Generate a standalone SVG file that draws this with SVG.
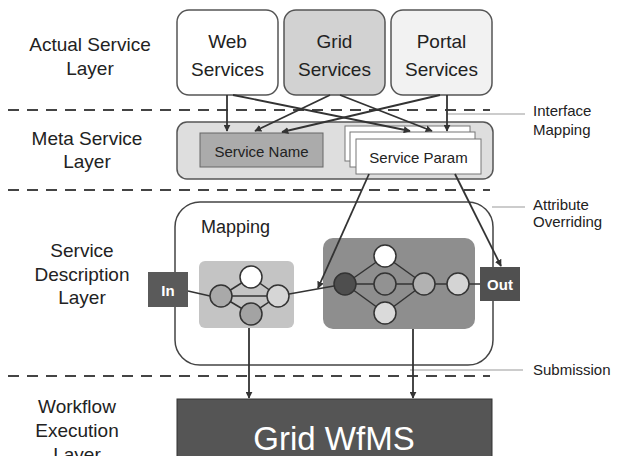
<svg xmlns="http://www.w3.org/2000/svg" width="617" height="456" viewBox="0 0 617 456">
<defs>
<style>
text{font-family:"Liberation Sans",Arial,sans-serif;fill:#222}
.lbl{font-size:19px;text-anchor:middle}
.side{font-size:15px}
.dash{stroke:#444;stroke-width:2;stroke-dasharray:11 8;fill:none}
.lead{stroke:#999;stroke-width:1;fill:none}
.box{stroke:#555;stroke-width:1.5}
.edge{stroke:#333;stroke-width:1.5;fill:none}
.arr{stroke:#333;stroke-width:1.8;fill:none;marker-end:url(#ah)}
.c{stroke:#333;stroke-width:1.5}
</style>
<marker id="ah" viewBox="0 0 10 10" refX="9" refY="5" markerWidth="7" markerHeight="7" markerUnits="userSpaceOnUse" orient="auto">
<path d="M0,0 L10,5 L0,10 z" fill="#333"/>
</marker>
</defs>
<rect width="617" height="456" fill="#fff"/>

<g id="layer-labels">
<text class="lbl" x="90" y="51">Actual Service</text>
<text class="lbl" x="90" y="75">Layer</text>
<text class="lbl" x="87" y="145">Meta Service</text>
<text class="lbl" x="87" y="168">Layer</text>
<text class="lbl" x="82" y="257">Service</text>
<text class="lbl" x="82" y="281">Description</text>
<text class="lbl" x="82" y="304">Layer</text>
<text class="lbl" x="77" y="413">Workflow</text>
<text class="lbl" x="77" y="437">Execution</text>
<text class="lbl" x="77" y="461">Layer</text>
</g>

<g id="dividers">
<line class="dash" x1="8" y1="110" x2="490" y2="110"/>
<line class="dash" x1="8" y1="190" x2="490" y2="190"/>
<line class="dash" x1="8" y1="376" x2="490" y2="376"/>
</g>

<g id="side-notes">
<line class="lead" x1="447" y1="114" x2="525" y2="114"/>
<text class="side" x="533" y="116">Interface</text>
<text class="side" x="533" y="135">Mapping</text>
<line class="lead" x1="492" y1="207" x2="525" y2="207"/>
<text class="side" x="533" y="210">Attribute</text>
<text class="side" x="533" y="227">Overriding</text>
<line class="lead" x1="410" y1="370" x2="523" y2="370"/>
<text class="side" x="533" y="375">Submission</text>
</g>

<g id="web-services">
<rect class="box" x="177" y="10" width="101" height="85" rx="12" fill="#fff"/>
<text class="lbl" x="227.5" y="48">Web</text>
<text class="lbl" x="227.5" y="76">Services</text>
</g>
<g id="grid-services">
<rect class="box" x="284" y="10" width="101" height="85" rx="12" fill="#d2d2d2"/>
<text class="lbl" x="334.5" y="48">Grid</text>
<text class="lbl" x="334.5" y="76">Services</text>
</g>
<g id="portal-services">
<rect class="box" x="391" y="10" width="101" height="85" rx="12" fill="#f2f2f2"/>
<text class="lbl" x="441.5" y="48">Portal</text>
<text class="lbl" x="441.5" y="76">Services</text>
</g>

<g id="meta-service">
<rect class="box" x="177" y="122" width="316" height="57" rx="10" fill="#dedede"/>
</g>
<g id="service-name">
<rect x="200" y="133" width="123" height="34" fill="#ababab" stroke="#666" stroke-width="1"/>
<text x="261.5" y="157" font-size="15" text-anchor="middle">Service Name</text>
</g>
<g id="service-param">
<rect x="345" y="126" width="125" height="35" fill="#fff" stroke="#777" stroke-width="1"/>
<rect x="350" y="132" width="125" height="35" fill="#fff" stroke="#777" stroke-width="1"/>
<rect x="356" y="139" width="125" height="35" fill="#fff" stroke="#777" stroke-width="1"/>
<text x="418.5" y="163" font-size="15" text-anchor="middle">Service Param</text>
</g>

<g id="service-description">
<rect x="175" y="202" width="318" height="163" rx="25" fill="#fff" stroke="#444" stroke-width="1.5"/>
<text x="201" y="233" font-size="18">Mapping</text>
</g>

<g id="left-group">
<rect x="199" y="261" width="95" height="67" rx="6" fill="#c4c4c4"/>
</g>
<g id="right-group">
<rect x="323" y="238" width="152" height="91" rx="10" fill="#8e8e8e"/>
</g>

<g id="connectors">
<!-- top to meta -->
<line class="arr" x1="227" y1="95" x2="227" y2="131"/>
<line class="arr" x1="233" y1="95" x2="410" y2="131"/>
<line class="arr" x1="330" y1="95" x2="255" y2="131"/>
<line class="arr" x1="340" y1="95" x2="432" y2="131"/>
<line class="arr" x1="447" y1="95" x2="447" y2="131"/>
<line class="arr" x1="440" y1="95" x2="282" y2="132"/>
<!-- left group edges -->
<line class="edge" x1="188" y1="291" x2="210" y2="296"/>
<line class="edge" x1="221" y1="296" x2="278" y2="296"/>
<line class="edge" x1="221" y1="296" x2="251" y2="277"/>
<line class="edge" x1="221" y1="296" x2="251" y2="314"/>
<line class="edge" x1="251" y1="277" x2="278" y2="296"/>
<line class="edge" x1="251" y1="314" x2="278" y2="296"/>
<line class="edge" x1="278" y1="296" x2="345" y2="284"/>
<!-- right group edges -->
<line class="edge" x1="345" y1="284" x2="385" y2="256"/>
<line class="edge" x1="345" y1="284" x2="424" y2="284"/>
<line class="edge" x1="345" y1="284" x2="385" y2="313"/>
<line class="edge" x1="385" y1="256" x2="424" y2="284"/>
<line class="edge" x1="385" y1="313" x2="424" y2="284"/>
<line class="edge" x1="424" y1="284" x2="480" y2="284"/>
<!-- attribute overriding -->
<line class="arr" x1="369" y1="174" x2="318" y2="288"/>
<line class="arr" x1="455" y1="174" x2="501" y2="266"/>
<!-- submission -->
<line class="arr" x1="249" y1="328" x2="249" y2="398"/>
<line class="arr" x1="413" y1="329" x2="413" y2="398"/>
</g>

<g id="in-node">
<rect x="148" y="272" width="40" height="35" fill="#5a5a5a"/>
<text x="168" y="296" font-size="15" font-weight="bold" text-anchor="middle" fill="#fff" style="fill:#fff">In</text>
</g>
<g id="left-nodes">
<circle class="c" cx="221" cy="296" r="11" fill="#a9a9a9"/>
<circle class="c" cx="251" cy="277" r="11" fill="#fff"/>
<circle class="c" cx="251" cy="314" r="11" fill="#a3a3a3"/>
<circle class="c" cx="278" cy="296" r="11" fill="#d6d6d6"/>
</g>
<g id="right-nodes">
<circle class="c" cx="345" cy="284" r="11" fill="#4e4e4e"/>
<circle class="c" cx="385" cy="256" r="11" fill="#fff"/>
<circle class="c" cx="385" cy="284" r="11" fill="#929292"/>
<circle class="c" cx="385" cy="313" r="11" fill="#dadada"/>
<circle class="c" cx="424" cy="284" r="11" fill="#b2b2b2"/>
<circle class="c" cx="458" cy="284" r="11" fill="#d4d4d4"/>
</g>
<g id="out-node">
<rect x="480" y="267" width="40" height="34" fill="#505050"/>
<text x="500" y="290" font-size="15" font-weight="bold" text-anchor="middle" style="fill:#fff">Out</text>
</g>

<g id="grid-wfms">
<rect x="177" y="399" width="315" height="62" fill="#555" stroke="#333" stroke-width="1"/>
<text x="334" y="450" font-size="33" text-anchor="middle" style="fill:#fff">Grid WfMS</text>
</g>
</svg>
